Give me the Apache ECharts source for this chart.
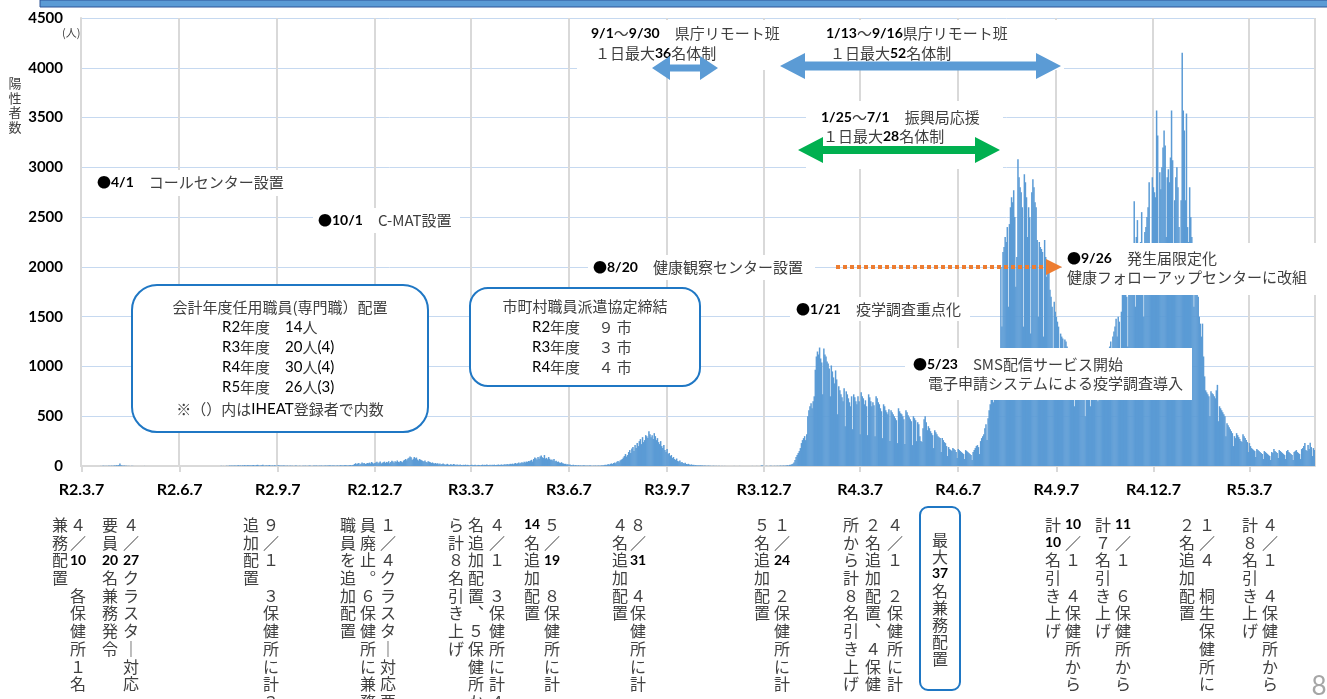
<!DOCTYPE html>
<html>
<head>
<meta charset="utf-8">
<script src="https://cdn.jsdelivr.net/npm/echarts/dist/echarts.min.js"></script>
<style>
html,body{margin:0;padding:0;background:#fff;}
#main{width:1327px;height:699px;}
</style>
</head>
<body>
<div id="main"></div>
<script>
// 陽性者数 (daily, 2020-03-07 .. 2023-05-07), one array per month
var mar20 = [1,0,0,0,0,0,0,0,0,0, 1,0,0,0,0,0,0,0,1,0, 2,3,1,2,1];
var apr20 = [2,3,1,4,2,3,6,4,8,5, 11,25,7,6,3,4,2,3,1,2, 1,0,2,1,0,1,0,0,1,0];
var may20 = [1,0,0,0,1,0,0,0,0,0, 0,0,0,0,0,0,0,0,0,0, 0,0,0,0,0,0,0,0,0,0, 0];
var jun20 = [0,0,0,0,0,0,0,0,0,0, 0,0,0,0,0,0,0,0,0,0, 0,0,0,0,1,0,0,0,0,0];
var jul20 = [0,0,0,0,0,0,0,0,0,0, 1,0,0,0,0,2,0,1,0,0, 3,1,2,4,3,5,2,6,4,3, 5];
var aug20 = [8,4,6,3,7,5,9,4,6,11, 5,8,4,7,10,6,5,9,12,7, 4,6,8,13,5,3,7,4,6,9, 5];
var sep20 = [4,6,3,8,5,2,4,7,3,5, 2,4,6,3,2,5,1,3,4,2, 3,1,2,4,2,1,3,2,1,2];
var oct20 = [3,2,4,1,2,3,5,2,1,3, 4,2,6,3,2,4,3,5,2,3, 4,6,3,5,4,7,3,4,6,5, 3];
var nov20 = [4,6,3,5,8,4,6,5,9,7, 4,6,8,10,6,9,12,20,28,18, 24,30,14,22,35,26,31,19,24,30];
var dec20 = [28,34,25,40,32,22,30,36,42,28, 35,45,26,33,38,44,30,41,36,48, 28,39,52,45,33,47,40,55,42,38, 50];
var jan21 = [45,38,55,62,70,58,75,82,95,88, 60,72,90,78,85,65,55,70,62,58, 50,45,55,40,35,48,42,38,30,36, 28];
var feb21 = [25,30,22,28,18,24,15,20,26,18, 12,16,22,14,10,18,15,12,20,14, 10,16,12,9,14,11,8,12];
var mar21 = [10,14,8,12,9,6,11,13,7,10, 12,5,8,11,9,6,10,14,8,12, 10,15,9,11,13,8,12,10,14,9, 11];
var apr21 = [12,15,10,13,16,11,14,18,12,20, 15,17,22,19,24,18,26,30,22,28, 35,26,32,38,30,42,36,45,40,50];
var may21 = [48,55,62,45,70,85,78,65,90,72, 95,105,88,80,110,75,82,68,90,72, 60,65,55,70,48,52,40,45,35,30, 38];
var jun21 = [28,25,20,22,15,18,12,14,10,8, 12,6,9,7,5,8,4,6,3,5, 7,4,2,5,3,4,6,3,2,4];
var jul21 = [3,5,2,4,6,3,5,8,6,10, 12,9,15,18,14,22,26,20,30,35, 28,42,50,38,55,62,70,85,100,120, 95];
var aug21 = [110,140,160,130,175,190,150,210,180,230, 200,250,270,220,290,240,260,310,300,280, 350,320,290,310,270,330,300,260,280,240, 220];
var sep21 = [250,200,180,210,160,140,170,120,130,100, 110,80,90,70,60,75,50,45,55,35, 40,30,25,32,20,18,22,15,12,16];
var oct21 = [10,12,8,9,6,7,5,8,4,6, 3,5,4,2,3,4,2,3,1,2, 3,1,2,0,1,2,0,1,1,0, 1];
var nov21 = [0,1,0,0,1,0,0,0,1,0, 0,0,0,1,0,0,0,0,0,1, 0,0,0,0,0,1,0,0,0,1];
var dec21 = [0,1,0,2,8,3,1,0,2,1, 0,1,3,2,0,1,2,1,3,2, 1,4,3,2,5,3,4,6,8,5, 12];
var jan22 = [12,18,22,35,60,90,110,130,150,180, 230,260,280,300,260,320,500,560,600,630, 580,650,700,967,1100,1150,1120,1190,1080,1040, 720];
var feb22 = [1180,1120,1100,1050,1030,980,700,1010,950,890, 830,960,870,520,800,760,720,690,650,780, 400,750,720,680,640,600,700,370];
var mar22 = [720,690,650,620,700,650,320,740,700,680, 620,660,600,310,720,690,650,600,640,610, 300,700,680,640,620,580,550,280,620,600, 560];
var apr22 = [540,520,570,250,560,540,520,500,480,460, 230,580,550,530,520,500,470,220,560,540, 510,490,470,450,210,500,480,460,250,440];
var may22 = [420,300,250,240,380,470,500,440,360,400, 380,350,330,310,180,360,340,320,300,290, 280,140,280,260,240,230,200,100,190,170, 160];
var jun22 = [150,180,170,160,140,80,170,160,150,140, 130,120,70,160,150,140,130,120,110,60, 140,160,180,200,210,190,120,250,280,300];
var jul22 = [320,380,420,260,480,560,620,700,760,640, 800,900,1000,1100,1150,900,2000,1400,2150,2200, 2300,2250,2400,1600,2430,2600,2700,2650,2770,2500, 1800];
var aug22 = [2100,3080,2900,2800,2750,2600,1400,2930,2850,2700, 2300,2600,2500,1330,2750,2880,2800,2650,2600,2270, 1500,2250,2200,2180,2150,1300,2270,2100,1900,2050, 2000];
var sep22 = [1770,1700,1600,1000,1650,1550,1500,1450,1400,900, 1330,1300,1280,700,1270,1250,1200,800,1100,1050, 1000,950,900,600,1150,1100,1000,950,900,850];
var oct22 = [800,850,900,500,950,900,850,820,600,880, 950,1000,980,940,900,650,1000,1050,1080,1020, 980,700,1100,1150,1120,1080,1200,1250,800,1300, 1350];
var nov22 = [1400,1480,1300,1500,1450,900,1550,1750,1800,1900, 1850,1700,1200,1950,2100,2150,2050,2200,2660,1600, 2300,2470,2200,2100,2250,2550,2000,1500,2350,2400];
var dec22 = [2500,2600,2850,2200,1800,2900,2800,2750,2700,3570, 3320,2000,2950,2780,3000,3200,3370,3220,2300,2900, 2980,2850,3100,3570,3070,2100,2670,2900,3000,2800, 2400];
var jan23 = [2000,2670,4150,3570,3370,2670,3540,2400,2250,2800, 2500,2300,1900,1600,2200,2000,1800,1700,1500,1430, 1300,1430,1100,900,760,740,720,700,500,750, 730];
var feb23 = [720,700,680,760,815,450,600,580,560,540, 520,500,300,430,410,390,370,350,330,200, 300,280,330,310,290,270,250,240];
var mar23 = [320,300,280,260,240,140,230,200,180,170, 160,150,90,170,160,150,140,130,120,70, 150,140,130,120,110,100,60,140,130,170, 150];
var apr23 = [140,130,80,160,150,140,130,120,110,70, 150,160,140,130,120,110,60,140,150,160, 140,130,120,70,170,180,200,230,160,150];
var may23 = [210,170,234,190,100,180,160];

var months = [mar20,apr20,may20,jun20,jul20,aug20,sep20,oct20,nov20,dec20,
  jan21,feb21,mar21,apr21,may21,jun21,jul21,aug21,sep21,oct21,nov21,dec21,
  jan22,feb22,mar22,apr22,may22,jun22,jul22,aug22,sep22,oct22,nov22,dec22,
  jan23,feb23,mar23,apr23,may23];

// x軸ラベル
var tickDates = ['2020-03-07','2020-06-07','2020-09-07','2020-12-07','2021-03-07','2021-06-07',
  '2021-09-07','2021-12-07','2022-03-07','2022-06-07','2022-09-07','2022-12-07','2023-03-07'];
var tickLabels = ['R2.3.7','R2.6.7','R2.9.7','R2.12.7','R3.3.7','R3.6.7',
  'R3.9.7','R3.12.7','R4.3.7','R4.6.7','R4.9.7','R4.12.7','R5.3.7'];

var cases = [].concat.apply([], months);
function pad(n){ return n < 10 ? '0' + n : '' + n; }
var dates = [];
for (var i = 0; i < cases.length; i++) {
  var d = new Date(2020, 2, 7 + i);
  dates.push(d.getFullYear() + '-' + pad(d.getMonth() + 1) + '-' + pad(d.getDate()));
}
function isTick(idx, val){ return tickDates.indexOf(val) >= 0; }

var JP = '"Noto Sans CJK JP"';
var NUM = 'Lato';
var GRAY = '#404040';

var RICH = {
  d: {fontFamily: JP, fontSize: 14, fill: '#000'},
  b: {fontFamily: NUM, fontWeight: 'bold', fontSize: 14, fill: '#000'},
  r: {fontFamily: NUM, fontSize: 15, fill: '#000'},
  t: {fontFamily: JP, fontSize: 15, fill: GRAY}
};

function label(x, y, text, align, va, lh){
  return {
    type: 'text', z: 110, x: x, y: y,
    style: {text: text, rich: RICH, align: align || 'left', verticalAlign: va || 'middle',
      lineHeight: lh || 19, fontFamily: JP, fontSize: 15, fill: GRAY}
  };
}
function whiteBox(x, y, w, h){
  return {type: 'rect', z: 100, shape: {x: x, y: y, width: w, height: h}, style: {fill: '#fff'}};
}
function dblArrow(x1, x2, y, hl, hh, sw, color){
  return {type: 'polygon', z: 120, shape: {points: [
    [x1, y], [x1 + hl, y - hh], [x1 + hl, y - sw], [x2 - hl, y - sw], [x2 - hl, y - hh],
    [x2, y], [x2 - hl, y + hh], [x2 - hl, y + sw], [x1 + hl, y + sw], [x1 + hl, y + hh]
  ]}, style: {fill: color}};
}
// 縦書き
function vcol(x, y, str, lh){
  var toks = str.match(/\d\d|./g);
  var txt = toks.map(function(t){ return /^\d\d$/.test(t) ? '{n|' + t + '}' : '{j|' + t + '}'; }).join('\n');
  return {
    type: 'text', z: 110, x: x, y: y,
    style: {text: txt, align: 'center', verticalAlign: 'top',
      rich: {
        n: {fontFamily: NUM, fontWeight: 'bold', fontSize: 14, fill: '#000', lineHeight: lh || 17.7},
        j: {fontFamily: JP, fontSize: 16, fill: GRAY, lineHeight: lh || 17.7}
      }}
  };
}

var columns = [
  ['兼務配置', 60], ['４／10　各保健所１名', 78],
  ['要員20名兼務発令', 110], ['４／27クラスタ｜対応', 131],
  ['追加配置', 251], ['９／１　３保健所に計３', 271],
  ['職員を追加配置', 348], ['員廃止︒６保健所に兼務', 368], ['１／４クラスタ｜対応要', 388],
  ['ら計８名引き上げ', 456], ['名追加配置︑５保健所か', 476], ['４／１　３保健所に計４', 497],
  ['14名追加配置', 532], ['５／19　８保健所に計', 552],
  ['４名追加配置', 620], ['８／31　４保健所に計', 638],
  ['５名追加配置', 762], ['１／24　２保健所に計', 782],
  ['所から計８名引き上げ', 851], ['２名追加配置︑４保健', 873], ['４／１　２保健所に計', 895],
  ['計10名引き上げ', 1053], ['10／１　４保健所から', 1073],
  ['計７名引き上げ', 1103], ['11／１　６保健所から', 1123],
  ['２名追加配置', 1187], ['１／４　桐生保健所に', 1207],
  ['計８名引き上げ', 1250], ['４／１　４保健所から', 1270]
];

var graphics = [
  // slide header bar
  {type: 'rect', z: 100, shape: {x: 40, y: 0, width: 1290, height: 7}, style: {fill: '#5b9bd5', stroke: '#2f5597', lineWidth: 1}},
  // y axis unit
  {type: 'text', z: 110, x: 62, y: 33, style: {text: '(人)', fontFamily: JP, fontSize: 11, fill: GRAY, verticalAlign: 'middle'}},
  {type: 'text', z: 110, x: 15, y: 76, style: {text: '陽\n性\n者\n数', fontFamily: JP, fontSize: 13, lineHeight: 14.5, fill: GRAY, align: 'center', verticalAlign: 'top'}},

  // white backgrounds of annotations
  whiteBox(577, 20, 487, 50),
  whiteBox(806, 101, 197, 68),
  whiteBox(92, 170, 208, 26),
  whiteBox(313, 208, 147, 25),
  whiteBox(588, 255, 227, 25),
  whiteBox(790, 297, 180, 24),
  whiteBox(1062, 243, 265, 52),
  whiteBox(905, 348, 287, 52),

  label(591, 33, '{b|9/1}{t|〜}{b|9/30}{t|　県庁リモート班}'),
  label(595, 53, '{t|１日最大}{b|36}{t|名体制}'),
  label(826, 33, '{b|1/13}{t|〜}{b|9/16}{t|県庁リモート班}'),
  label(830, 53, '{t|１日最大}{b|52}{t|名体制}'),
  dblArrow(652, 718, 68, 18, 12, 3.5, '#5b9bd5'),
  dblArrow(780, 1061, 66, 25, 13, 4.5, '#5b9bd5'),

  label(821, 117, '{b|1/25}{t|〜}{b|7/1}{t|　振興局応援}'),
  label(823, 136, '{t|１日最大}{b|28}{t|名体制}'),
  dblArrow(798, 1000, 150, 25, 13, 4, '#00b050'),

  label(97, 182, '{d|●}{b|4/1}{t|　コールセンター設置}'),
  label(318, 220, '{d|●}{b|10/1}{t|　C-MAT設置}'),
  label(593, 267, '{d|●}{b|8/20}{t|　健康観察センター設置}'),
  label(796, 309, '{d|●}{b|1/21}{t|　疫学調査重点化}'),
  label(1067, 258, '{d|●}{b|9/26}{t|　発生届限定化}'),
  label(1067, 277, '{t|健康フォローアップセンターに改組}'),
  label(913, 364, '{d|●}{b|5/23}{t|　SMS配信サービス開始}'),
  label(928, 383, '{t|電子申請システムによる疫学調査導入}'),

  {type: 'line', z: 120, shape: {x1: 836, y1: 267, x2: 1048, y2: 267}, style: {stroke: '#ed7d31', lineWidth: 4, lineDash: [4, 3]}},
  {type: 'polygon', z: 120, shape: {points: [[1046, 259], [1062, 267], [1046, 275]]}, style: {fill: '#ed7d31'}},

  // rounded boxes
  {type: 'rect', z: 100, shape: {x: 132, y: 285, width: 296, height: 147, r: 25}, style: {fill: '#fff', stroke: '#1f77c4', lineWidth: 2}},
  label(280, 307, '{t|会計年度任用職員(専門職）配置}', 'center'),
  label(222, 327, '{r|R2}{t|年度　}{r|14}{t|人}'),
  label(222, 347, '{r|R3}{t|年度　}{r|20}{t|人}{r|(4)}'),
  label(222, 367, '{r|R4}{t|年度　}{r|30}{t|人}{r|(4)}'),
  label(222, 387, '{r|R5}{t|年度　}{r|26}{t|人}{r|(3)}'),
  label(280, 409, '{t|※（）内は}{r|IHEAT}{t|登録者で内数}', 'center'),

  {type: 'rect', z: 100, shape: {x: 470, y: 288, width: 230, height: 98, r: 18}, style: {fill: '#fff', stroke: '#1f77c4', lineWidth: 2}},
  label(585, 306, '{t|市町村職員派遣協定締結}', 'center'),
  label(532, 327, '{r|R2}{t|年度　 ９ 市}'),
  label(532, 347, '{r|R3}{t|年度　 ３ 市}'),
  label(532, 367, '{r|R4}{t|年度　 ４ 市}'),

  {type: 'rect', z: 100, shape: {x: 920, y: 507, width: 40, height: 183, r: 8}, style: {fill: '#fff', stroke: '#1f77c4', lineWidth: 2}},
  vcol(940, 531, '最大37名兼務配置', 17),

  {type: 'text', z: 110, x: 1319, y: 687, style: {text: '8', fontFamily: NUM, fontSize: 26, fill: '#a6a6a6', align: 'center', verticalAlign: 'middle'}}
];
columns.forEach(function(c){ graphics.push(vcol(c[1], 516, c[0])); });

var chart = echarts.init(document.getElementById('main'));
var option = {
  animation: false,
  backgroundColor: '#fff',
  grid: {left: 81, right: 12, top: 18, bottom: 233, containLabel: false, outerBoundsMode: 'none'},
  xAxis: {
    type: 'category',
    data: dates,
    axisLine: {lineStyle: {color: '#d9d9d9', width: 2}},
    axisTick: {show: true, interval: isTick, alignWithLabel: true, length: 6, lineStyle: {color: '#d9d9d9', width: 2}},
    axisLabel: {
      interval: isTick, margin: 16,
      fontFamily: NUM, fontWeight: 'bold', fontSize: 16, color: '#000',
      formatter: function(v){ var k = tickDates.indexOf(v); return k >= 0 ? tickLabels[k] : ''; }
    },
    splitLine: {show: true, interval: isTick, lineStyle: {color: '#d9d9d9', width: 2}}
  },
  yAxis: {
    type: 'value', min: 0, max: 4500, interval: 500,
    axisLine: {show: true, lineStyle: {color: '#d9d9d9', width: 2}},
    axisTick: {show: false},
    axisLabel: {fontFamily: NUM, fontWeight: 'bold', fontSize: 15, color: '#000', margin: 18,
      formatter: function(v){ return String(v); }},
    splitLine: {lineStyle: {color: '#c6d9f0', width: 1}}
  },
  series: [{
    name: '陽性者数',
    type: 'bar',
    data: cases,
    barWidth: 1.5,
    barGap: '-100%',
    itemStyle: {color: '#5b9bd5'}
  }],
  graphic: {elements: graphics}
};
chart.setOption(option);
</script>
</body>
</html>
